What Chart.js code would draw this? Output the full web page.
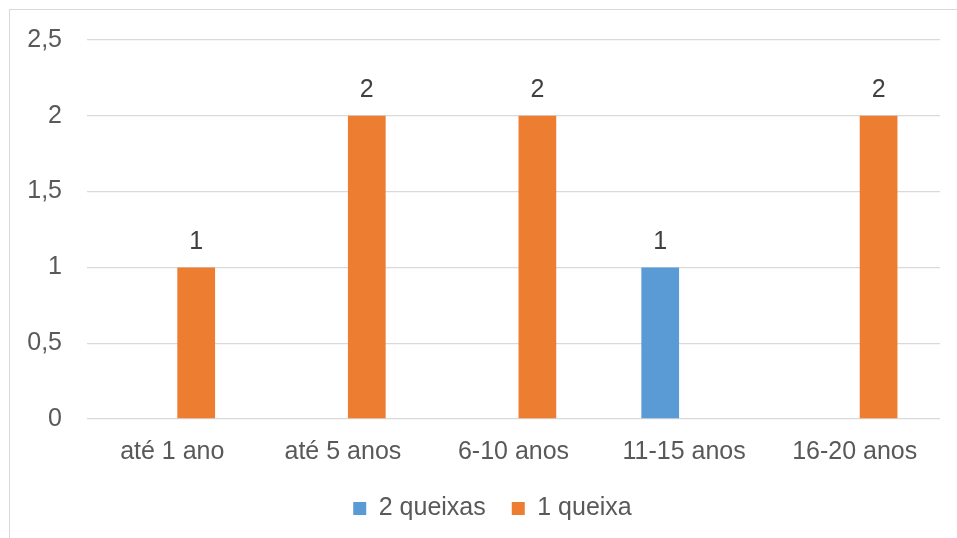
<!DOCTYPE html>
<html>
<head>
<meta charset="utf-8">
<script src="https://cdn.jsdelivr.net/npm/chart.js@4.4.0/dist/chart.umd.min.js"></script>
<style>
  html, body { margin: 0; padding: 0; background: #fff; overflow: hidden; }
  #wrap { position: relative; width: 957px; height: 538px; }
  #frame { position: absolute; left: 9px; top: 9px; width: 960px; height: 540px; border: 1px solid #d9d9d9; box-sizing: border-box; }
  canvas { position: absolute; left: 0; top: 0; }
</style>
</head>
<body>
<div id="wrap">
  <div id="frame"></div>
  <canvas id="myChart" width="957" height="538"></canvas>
</div>
<script>
// chart data
const categories = ['até 1 ano', 'até 5 anos', '6-10 anos', '11-15 anos', '16-20 anos'];
const seriesNames = ['2 queixas', '1 queixa'];
const duasQueixas = [null, null, null, 1, null];
const umaQueixa = [1, 2, 2, null, 2];
const yTicks = [0, 0.5, 1, 1.5, 2, 2.5];

const fontFamily = '"Liberation Sans", Arial, sans-serif';

// draws the value above each bar
const barLabels = {
    id: 'barLabels',
    afterDatasetsDraw(chart) {
        const ctx = chart.ctx;
        ctx.save();
        ctx.font = '25px ' + fontFamily;
        ctx.fillStyle = '#404040';
        ctx.textAlign = 'center';
        ctx.textBaseline = 'bottom';
        chart.data.datasets.forEach((ds, i) => {
            const meta = chart.getDatasetMeta(i);
            meta.data.forEach((bar, j) => {
                const v = ds.data[j];
                if (v === null || v === undefined) return;
                ctx.fillText(String(v).replace('.', ','), bar.x, bar.y - 13);
            });
        });
        ctx.restore();
    }
};

// nudge legend to where the original sits
const legendShift = {
    id: 'legendShift',
    afterLayout(chart) {
        const lg = chart.legend;
        lg.left += 10; lg.right += 10;
        lg.top -= 7; lg.bottom -= 7;
    }
};

const config = {
    type: 'bar',
    data: {
        labels: categories,
        datasets: [
            {
                label: seriesNames[0],
                data: duasQueixas,
                backgroundColor: '#5b9bd5',
                categoryPercentage: 0.56,
                barPercentage: 0.79
            },
            {
                label: seriesNames[1],
                data: umaQueixa,
                backgroundColor: '#ed7d31',
                categoryPercentage: 0.56,
                barPercentage: 0.79
            }
        ]
    },
    options: {
        responsive: false,
        animation: false,
        layout: {
            padding: { left: 25, right: 17, top: 38, bottom: 0 }
        },
        plugins: {
            tooltip: { enabled: false },
            legend: {
                position: 'bottom',
                labels: {
                    boxWidth: 13,
                    boxHeight: 13,
                    padding: 26,
                    color: '#595959',
                    font: { size: 25, family: fontFamily }
                }
            }
        },
        scales: {
            x: {
                grid: { display: false },
                border: { display: false },
                ticks: {
                    color: '#595959',
                    padding: 10,
                    font: { size: 25, family: fontFamily }
                }
            },
            y: {
                min: 0,
                max: 2.5,
                afterFit(scale) { scale.width = 62; },
                afterBuildTicks(scale) { scale.ticks = yTicks.map(v => ({ value: v })); },
                grid: { color: '#d9d9d9', lineWidth: 1.3, drawTicks: false },
                border: { display: false },
                ticks: {
                    color: '#595959',
                    padding: 25,
                    font: { size: 25, family: fontFamily },
                    callback: v => String(v).replace('.', ',')
                }
            }
        }
    },
    plugins: [barLabels, legendShift]
};

const myChart = new Chart(document.getElementById('myChart'), config);
</script>
</body>
</html>
